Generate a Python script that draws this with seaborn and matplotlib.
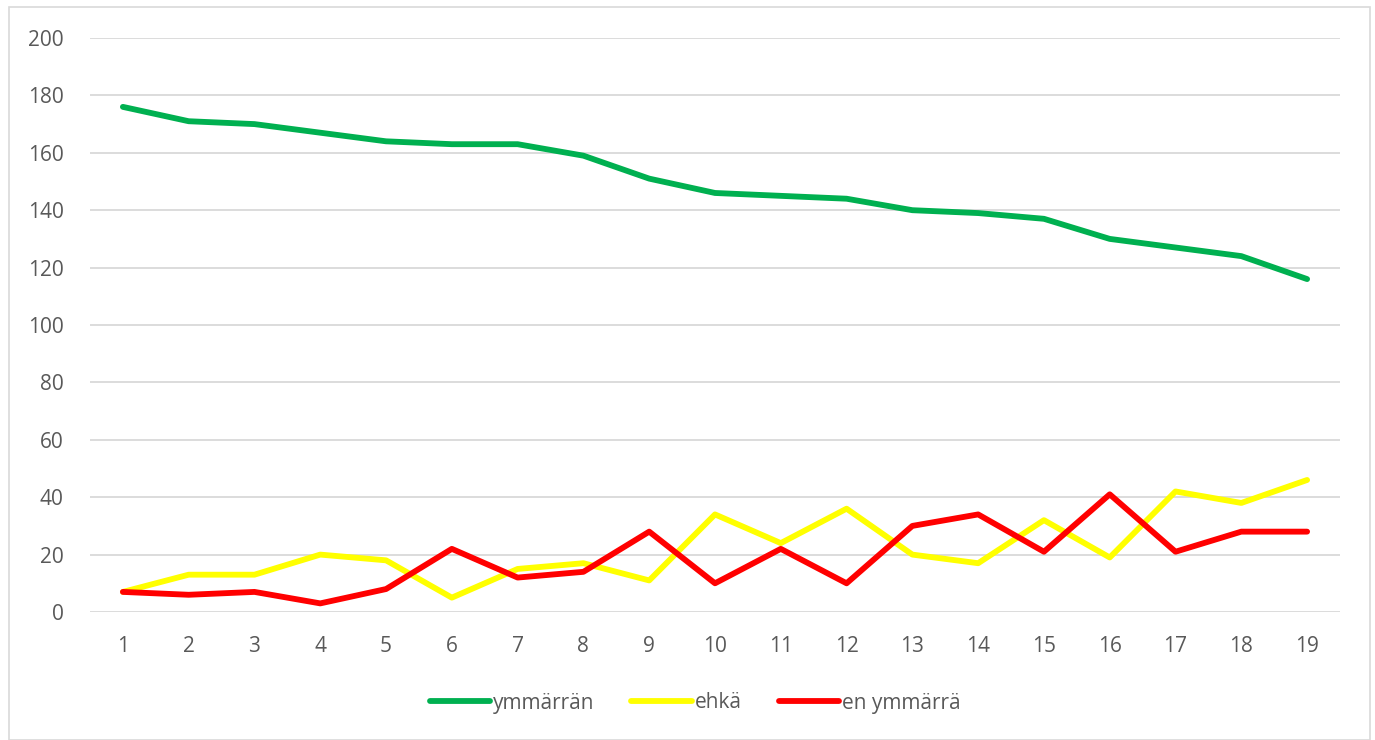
import numpy as np
import pandas as pd
import matplotlib
matplotlib.use("Agg")
import matplotlib.pyplot as plt
import seaborn as sns
from matplotlib.patches import Rectangle

categories = list(range(1, 20))
ymmarran = [176, 171, 170, 167, 164, 163, 163, 159, 151, 146, 145, 144, 140, 139, 137, 130, 127, 124, 116]
ehka = [7, 13, 13, 20, 18, 5, 15, 17, 11, 34, 24, 36, 20, 17, 32, 19, 42, 38, 46]
en_ymmarra = [7, 6, 7, 3, 8, 22, 12, 14, 28, 10, 22, 10, 30, 34, 21, 41, 21, 28, 28]
series_names = ["ymmärrän", "ehkä", "en ymmärrä"]
y_ticks = [0, 20, 40, 60, 80, 100, 120, 140, 160, 180, 200]

df = pd.DataFrame({
    "x": categories * 3,
    "value": ymmarran + ehka + en_ymmarra,
    "series": [series_names[0]] * 19 + [series_names[1]] * 19 + [series_names[2]] * 19,
})

sns.set_theme(style="white")
plt.rcParams["font.family"] = ["Open Sans", "DejaVu Sans"]

fig = plt.figure(figsize=(13.75, 7.4), dpi=100)
ax = fig.add_axes([90 / 1375, 1 - 612 / 740, (1340 - 90) / 1375, (612 - 38) / 740])

palette = {"ymmärrän": "#00B050", "ehkä": "#FFFF00", "en ymmärrä": "#FF0000"}
sns.lineplot(data=df, x="x", y="value", hue="series", palette=palette, ax=ax,
             linewidth=4.2, legend=True, solid_capstyle="round", solid_joinstyle="round")

ax.set_xlim(0.5, 19.5)
ax.set_ylim(0, 200)
ax.set_xticks(categories)
ax.set_xticklabels([str(c) for c in categories])
ax.set_yticks(y_ticks)
ax.set_yticklabels([str(t) for t in y_ticks])
ax.tick_params(axis="both", length=0, labelsize=15, colors="#595959")
ax.tick_params(axis="x", pad=17)
ax.tick_params(axis="y", pad=19)
ax.grid(axis="y", color="#D9D9D9", linewidth=1.3)
ax.grid(axis="x", visible=False)
ax.set_axisbelow(True)
for s in ["top", "right", "left", "bottom"]:
    ax.spines[s].set_visible(False)
ax.set_xlabel("")
ax.set_ylabel("")

handles, labels = ax.get_legend_handles_labels()
leg = ax.legend(handles, labels, loc="center", bbox_to_anchor=(0.484, (703 - 612) / -(612 - 38)),
                ncol=3, frameon=False, fontsize=15, handlelength=2.9, handletextpad=0.12,
                columnspacing=1.8, labelcolor="#595959")
for line in leg.get_lines():
    line.set_linewidth(4.2)

fig.patches.append(Rectangle((9 / 1375, 0), (1370 - 9) / 1375, 1 - 7 / 740,
                             transform=fig.transFigure, fill=False,
                             edgecolor="#D9D9D9", linewidth=1.2))

fig.savefig("out.png", dpi=100, facecolor="white")
